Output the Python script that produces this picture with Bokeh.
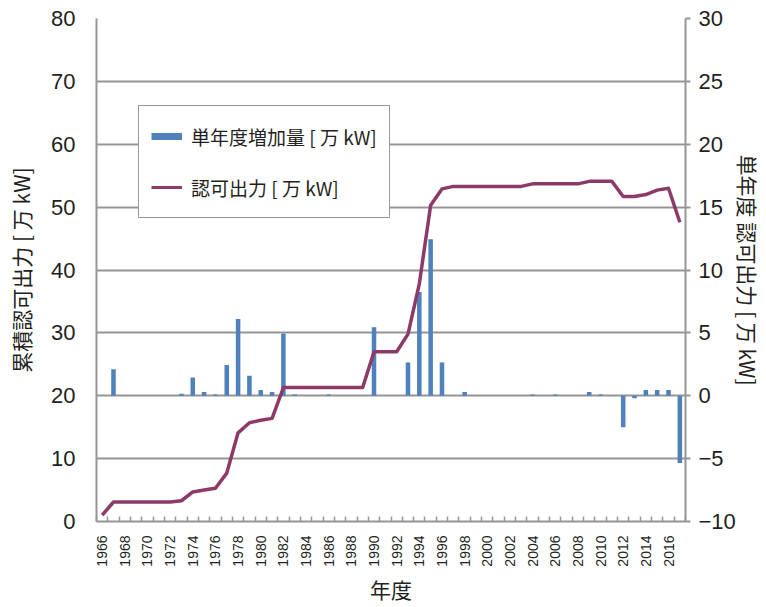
import math
from bokeh.plotting import figure
from bokeh.models import (Range1d, LinearAxis, FixedTicker, Legend, LegendItem,
                          ColumnDataSource)
from bokeh.embed import file_html
from bokeh.resources import INLINE

years = list(range(1966, 2018))
increment = [0, 2.1, 0, 0, 0, 0, 0, 0.15, 1.45, 0.3,
             0.1, 2.45, 6.1, 1.6, 0.45, 0.3, 4.95, 0.1, 0, 0,
             0.1, 0, 0, 0, 5.45, 0, 0, 2.65, 8.25, 12.45,
             2.65, 0, 0.3, 0, 0, 0, 0, 0, 0.1, 0,
             0.1, 0, 0, 0.3, 0.1, 0, -2.5, -0.2, 0.45, 0.45,
             0.45, -5.35]
cumulative = [1.0, 3.1, 3.1, 3.1, 3.1, 3.1, 3.1, 3.3, 4.7, 5.0,
              5.3, 7.7, 14.1, 15.7, 16.1, 16.4, 21.3, 21.3, 21.3, 21.3,
              21.3, 21.3, 21.3, 21.3, 27.0, 27.0, 27.0, 29.8, 37.8, 50.3,
              52.9, 53.3, 53.3, 53.3, 53.3, 53.3, 53.3, 53.3, 53.7, 53.7,
              53.7, 53.7, 53.7, 54.1, 54.1, 54.1, 51.7, 51.7, 52.0, 52.7,
              53.0, 47.6]
label_years = list(range(1966, 2017, 2))
left_ticks = list(range(0, 81, 10))
right_ticks = list(range(-10, 31, 5))

BAR = "#4F81BD"
LINE = "#8E3A69"
GRID = "#959595"
TXT = "#231F20"
JP = "Noto Sans CJK JP"
LAT = "Liberation Sans"

src = ColumnDataSource(dict(year=years, inc=increment, cum=cumulative))

p = figure(width=766, height=607, output_backend="svg", toolbar_location=None,
           x_range=Range1d(1965.5, 2017.5), y_range=Range1d(0, 80),
           min_border_left=96, min_border_right=81, min_border_top=18,
           min_border_bottom=86)
p.extra_y_ranges = {"right": Range1d(-10, 30)}
p.outline_line_color = None
p.background_fill_color = "white"

# bottom axis
p.xaxis.ticker = FixedTicker(ticks=label_years,
                             minor_ticks=[y + 0.5 for y in range(1965, 2018)])
p.xaxis.major_tick_line_color = None
p.xaxis.minor_tick_in = 5
p.xaxis.minor_tick_out = 0
p.xaxis.minor_tick_line_color = GRID
p.xaxis.minor_tick_line_width = 1.5
p.xaxis.axis_line_color = GRID
p.xaxis.axis_line_width = 2
p.xaxis.major_label_orientation = math.pi / 2
p.xaxis.major_label_text_font = LAT
p.xaxis.major_label_text_font_size = "14px"
p.xaxis.major_label_text_color = TXT
p.xaxis.major_label_standoff = 8
p.xaxis.axis_label = "年度"
p.xaxis.axis_label_text_font = JP
p.xaxis.axis_label_text_font_size = "21px"
p.xaxis.axis_label_text_font_style = "normal"
p.xaxis.axis_label_text_color = TXT
p.xaxis.axis_label_standoff = 4

# left axis
p.yaxis.ticker = FixedTicker(ticks=left_ticks)
p.yaxis.minor_tick_line_color = None
p.yaxis.major_tick_line_color = None
p.yaxis.axis_line_color = GRID
p.yaxis.axis_line_width = 2
p.yaxis.major_label_text_font = LAT
p.yaxis.major_label_text_font_size = "22px"
p.yaxis.major_label_text_color = TXT
p.yaxis.major_label_standoff = 15
p.yaxis.axis_label = "累積認可出力 [ 万 kW]"
p.yaxis.axis_label_text_font = JP
p.yaxis.axis_label_text_font_size = "21px"
p.yaxis.axis_label_text_font_style = "normal"
p.yaxis.axis_label_text_color = TXT
p.yaxis.axis_label_standoff = 12

# right axis
ra = LinearAxis(y_range_name="right", ticker=FixedTicker(ticks=right_ticks))
ra.minor_tick_line_color = None
ra.major_tick_in = 0
ra.major_tick_out = 5
ra.major_tick_line_color = GRID
ra.major_tick_line_width = 2
ra.axis_line_color = GRID
ra.axis_line_width = 2
ra.major_label_text_font = LAT
ra.major_label_text_font_size = "22px"
ra.major_label_text_color = TXT
ra.major_label_standoff = 8
ra.axis_label = "単年度 認可出力 [ 万 kW]"
ra.axis_label_orientation = "vertical"
ra.axis_label_text_font = JP
ra.axis_label_text_font_size = "21px"
ra.axis_label_text_font_style = "normal"
ra.axis_label_text_color = TXT
ra.axis_label_standoff = -6
p.add_layout(ra, "right")

p.xgrid.grid_line_color = None
p.ygrid.grid_line_color = GRID
p.ygrid.grid_line_width = 2

# data
p.vbar(x="year", top="inc", bottom=0, width=0.4, source=src,
       y_range_name="right", fill_color=BAR, line_color=None)
p.line(x="year", y="cum", source=src, line_color=LINE, line_width=3.5,
       line_join="round")

# legend proxies (drawn outside the visible ranges)
leg_bar = p.line(x=[1900, 1901], y=[-100, -100], line_color=BAR, line_width=7)
leg_line = p.line(x=[1900, 1901], y=[-100, -100], line_color=LINE, line_width=3)
legend = Legend(items=[LegendItem(label="単年度増加量 [ 万 kW]", renderers=[leg_bar]),
                       LegendItem(label="認可出力 [ 万 kW]", renderers=[leg_line])],
                location=(42, 303), orientation="vertical")
legend.label_text_font = JP
legend.label_text_font_size = "19px"
legend.label_text_color = TXT
legend.glyph_width = 31
legend.glyph_height = 36
legend.label_height = 36
legend.spacing = 15
legend.padding = 12
legend.margin = 0
legend.label_standoff = 9
legend.border_line_color = "#333333"
legend.border_line_width = 1.5
legend.background_fill_color = "white"
legend.background_fill_alpha = 1
p.add_layout(legend, "center")

open("out.html", "w").write(file_html(p, INLINE))
